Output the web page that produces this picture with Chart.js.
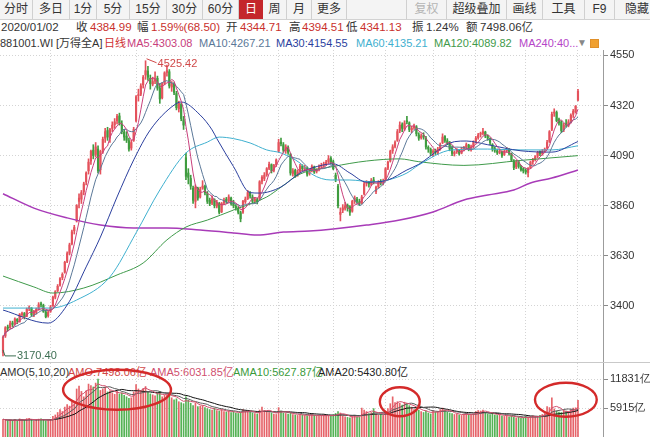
<!DOCTYPE html>
<html>
<head>
<meta charset="utf-8">
<script src="https://cdn.jsdelivr.net/npm/chart.js@4.4.1/dist/chart.umd.min.js"></script>
<style>
  body { margin: 0; background: #fff; font-family: Arial, "Liberation Sans", "Noto Sans CJK SC", sans-serif; }
  #wrap { position: relative; width: 650px; height: 437px; overflow: hidden; background: #fff; }
  #toolbar { position: absolute; left: 0; top: 0; width: 650px; height: 19px; background: #f4f4f4; border-bottom: 1px solid #d2d2d2; }
  #toolbar span { position: absolute; top: 0; height: 19px; line-height: 19px; font-size: 12px; color: #333; text-align: center; border-right: 1px solid #d0d0d0; box-sizing: border-box; overflow: hidden; white-space: nowrap; }
  #toolbar span.on { background: #c4262b; color: #fff; border-right: none; }
  #toolbar span.off { color: #b4b4b4; }
  .t { position: absolute; white-space: nowrap; }
  .r2 { top: 20px; font-size: 11.5px; line-height: 15px; color: #333; }
  .r3 { top: 36px; font-size: 11px; line-height: 14px; color: #333; }
  .rv { top: 365px; font-size: 11px; line-height: 14px; color: #333; }
  .red { color: #c9302c; }
  canvas { position: absolute; left: 0; }
  #sep { position: absolute; left: 0; top: 362px; width: 650px; height: 1px; background: #c9c9c9; }
</style>
</head>
<body>
<div id="wrap">
  <div id="toolbar">
    <span style="left:0;width:33px">分时</span>
    <span style="left:33px;width:37px">多日</span>
    <span style="left:70px;width:27px">1分</span>
    <span style="left:97px;width:33px">5分</span>
    <span style="left:130px;width:37px">15分</span>
    <span style="left:167px;width:36px">30分</span>
    <span style="left:203px;width:36px">60分</span>
    <span class="on" style="left:239px;width:24px">日</span>
    <span style="left:263px;width:24px">周</span>
    <span style="left:287px;width:25px">月</span>
    <span style="left:312px;width:35px">更多</span>
    <span style="left:347px;width:60px"></span>
    <span class="off" style="left:407px;width:40px">复权</span>
    <span style="left:447px;width:60px">超级叠加</span>
    <span style="left:507px;width:36px">画线</span>
    <span style="left:543px;width:42px">工具</span>
    <span style="left:585px;width:30px">F9</span>
    <span style="left:615px;width:35px;text-align:left;padding-left:10px;border-right:none">隐藏</span>
  </div>

  <span class="t r2" style="left:1px">2020/01/02</span>
  <span class="t r2" style="left:76px">收</span>
  <span class="t r2 red" style="left:90px">4384.99</span>
  <span class="t r2" style="left:137px">幅</span>
  <span class="t r2 red" style="left:151px">1.59%(68.50)</span>
  <span class="t r2" style="left:226px">开</span>
  <span class="t r2 red" style="left:240px">4344.71</span>
  <span class="t r2" style="left:289px">高</span>
  <span class="t r2 red" style="left:302px">4394.51</span>
  <span class="t r2" style="left:346px">低</span>
  <span class="t r2 red" style="left:360px">4341.13</span>
  <span class="t r2" style="left:412px">振</span>
  <span class="t r2" style="left:426px">1.24%</span>
  <span class="t r2" style="left:466px">额</span>
  <span class="t r2" style="left:480px">7498.06亿</span>

  <span class="t r3" style="left:0">881001.WI</span>
  <span class="t r3" style="left:56px">[万得全A]</span>
  <span class="t r3" style="left:104px;color:#d03030">日线</span>
  <span class="t r3" style="left:127px;color:#c8407c">MA5:4303.08</span>
  <span class="t r3" style="left:199px;color:#5b7898">MA10:4267.21</span>
  <span class="t r3" style="left:276px;color:#2b3f9e">MA30:4154.55</span>
  <span class="t r3" style="left:356px;color:#3fb0cf">MA60:4135.21</span>
  <span class="t r3" style="left:434px;color:#3f9a4a">MA120:4089.82</span>
  <span class="t r3" style="left:519px;color:#b545c8">MA240:40...</span>
  <span class="t r3" style="left:577px;color:#888;font-size:10px">▼</span>
  <div style="position:absolute;left:590px;top:39px;width:7px;height:7px;background:#f0a030;border:1px solid #e0902a"></div>

  <canvas id="price" width="650" height="312" style="top:50px"></canvas>
  <div id="sep"></div>

  <span class="t rv" style="left:0">AMO(5,10,20)</span>
  <span class="t rv" style="left:68px;color:#d04848">AMO:7498.06亿</span>
  <span class="t rv" style="left:150px;color:#d0506e">AMA5:6031.85亿</span>
  <span class="t rv" style="left:233px;color:#3a9a3a">AMA10:5627.87亿</span>
  <span class="t rv" style="left:318px;color:#222">AMA20:5430.80亿</span>

  <canvas id="volume" width="650" height="74" style="top:363px"></canvas>
</div>

<script>
// 日线数据 2019/01/04 - 2020/01/02，按月分行
const opens = [
  3185,3262,3302,3300,3322,3318,3338,3328,3360,3365,3352,3388,3390,3358,3370,3386,3410,3402,3372,3355,
  3375,3400,3440,3470,3495,3530,3555,3605,3642,3685,3745,3790,3880,3890,3925,
  3970,4020,4065,4115,4095,4120,4025,4115,4170,4205,4170,4215,4232,4250,4272,4235,4198,4180,4158,4125,4160,
  4250,4365,4372,4415,4460,4478,4445,4418,4432,4445,4400,4355,4422,4472,4475,4405,4418,4375,4305,4325,4255,
  4080,4010,3985,3940,3880,3940,3900,3940,3948,3915,3885,3872,3888,3858,3870,3832,3872,3890,3882,3895,
  3872,3858,3848,3828,3830,3878,3892,3918,3900,3882,3888,3890,3972,3985,4002,4032,4048,4022,4048,
  4110,4152,4140,4112,4128,4095,4008,4022,4002,4018,4042,4028,4032,4008,4022,4038,4018,4028,4040,4046,4052,4062,4078,
  4062,4000,3950,3820,3840,3848,3862,3855,3835,3882,3890,3878,3872,3915,3962,3968,3958,3978,3925,3948,3972,3968,
  3980,4032,4065,4112,4132,4160,4205,4232,4212,4250,4240,4208,4218,4222,4185,4172,4182,4170,4128,4118,
  4105,4112,4100,4122,4150,4178,4158,4148,4125,4098,4108,4112,4102,4122,4128,4138,4118,4132,
  4155,4172,4188,4192,4198,4178,4168,4140,4122,4112,4102,4108,4095,4112,4118,4098,4065,4038,4062,4038,4030,
  4022,4012,4035,4062,4072,4088,4108,4098,4112,4125,4155,4210,4285,4288,4255,4245,4208,4235,4228,4248,4280,4290,4344.71
];
const highs = [
  3262,3305,3312,3330,3330,3345,3342,3365,3372,3370,3390,3400,3392,3380,3390,3415,3418,3408,3380,3378,
  3402,3445,3470,3498,3530,3552,3605,3648,3688,3748,3770,3865,3915,3930,3968,
  4015,4075,4115,4140,4150,4135,4115,4175,4215,4220,4215,4245,4260,4280,4285,4250,4210,4200,4170,4160,4220,
  4365,4395,4420,4458,4525.42,4500,4460,4450,4475,4455,4420,4425,4475,4505,4485,4430,4425,4385,4340,4330,4270,
  4100,4030,4000,3950,3955,3945,3945,3975,3955,3925,3895,3905,3892,3885,3875,3875,3895,3898,3910,3900,
  3885,3865,3856,3835,3885,3900,3930,3925,3910,3898,3895,3975,3998,4012,4035,4060,4052,4050,4075,
  4165,4170,4150,4140,4135,4100,4030,4028,4025,4050,4048,4045,4038,4028,4048,4042,4030,4048,4055,4060,4068,4090,4085,
  4070,4010,3958,3850,3865,3875,3868,3860,3885,3905,3898,3890,3908,3968,3975,3972,3985,3990,3950,3975,3980,3982,
  4035,4065,4115,4140,4158,4210,4245,4240,4250,4270,4245,4225,4235,4228,4195,4190,4195,4178,4135,4125,
  4118,4120,4128,4148,4190,4182,4168,4155,4135,4112,4122,4118,4128,4132,4148,4142,4138,4158,
  4178,4192,4198,4215,4202,4185,4172,4145,4130,4120,4118,4112,4118,4128,4122,4102,4072,4068,4065,4045,4035,
  4030,4035,4065,4078,4090,4110,4112,4118,4125,4160,4205,4290,4305,4295,4262,4250,4238,4255,4255,4282,4302,4320,4394.51
];
const lows = [
  3170.4,3255,3285,3296,3305,3312,3318,3325,3350,3340,3350,3378,3352,3350,3362,3380,3395,3370,3345,3348,
  3370,3398,3432,3465,3490,3520,3550,3598,3635,3680,3730,3785,3850,3870,3910,
  3955,4005,4050,4075,4085,4010,4005,4100,4150,4160,4150,4200,4215,4235,4230,4190,4160,4150,4110,4115,4155,
  4245,4340,4365,4400,4440,4435,4395,4410,4420,4390,4330,4350,4415,4455,4400,4385,4370,4300,4290,4250,4210,
  3980,3960,3935,3870,3850,3885,3895,3935,3910,3870,3860,3865,3850,3850,3822,3828,3865,3870,3878,3862,
  3850,3840,3822,3786,3825,3870,3888,3895,3872,3870,3868,3885,3960,3975,3995,4025,4010,4015,4040,
  4105,4135,4105,4100,4095,4000,3995,3990,3995,4010,4020,4018,3995,4000,4015,4008,4010,4020,4032,4038,4045,4055,4052,
  4025,3970,3850,3790,3828,3840,3835,3815,3830,3870,3870,3860,3868,3910,3950,3945,3952,3960,3915,3940,3955,3955,
  3975,4025,4060,4100,4125,4155,4195,4200,4205,4235,4200,4195,4210,4180,4160,4165,4165,4120,4105,4090,
  4085,4095,4095,4115,4145,4150,4140,4112,4090,4088,4100,4092,4098,4112,4120,4112,4110,4125,
  4148,4165,4175,4185,4172,4160,4140,4110,4105,4095,4098,4082,4090,4105,4092,4062,4025,4030,4032,4018,4010,
  4005,3992,4030,4050,4065,4080,4090,4092,4105,4120,4150,4205,4270,4245,4230,4195,4200,4220,4222,4240,4265,4285,4341.13
];
const closes = [
  3255,3300,3298,3320,3315,3340,3330,3360,3362,3350,3385,3392,3360,3372,3385,3405,3405,3375,3350,3370,
  3395,3440,3465,3490,3525,3545,3600,3640,3680,3740,3760,3860,3895,3920,3960,
  4010,4060,4110,4090,4130,4020,4110,4165,4200,4175,4210,4230,4245,4270,4240,4200,4175,4160,4120,4150,4210,
  4360,4370,4410,4450,4480,4450,4420,4430,4440,4400,4350,4420,4470,4480,4410,4420,4380,4310,4330,4260,4230,
  3995,3990,3950,3885,3945,3895,3935,3950,3920,3880,3870,3890,3860,3875,3830,3870,3885,3880,3900,3870,
  3860,3850,3830,3800,3880,3890,3920,3905,3880,3890,3880,3970,3990,4000,4030,4050,4020,4045,4070,
  4150,4145,4115,4130,4105,4010,4020,4000,4015,4040,4030,4035,4005,4020,4040,4015,4025,4040,4045,4050,4060,4075,4060,
  4030,3980,3860,3830,3850,3860,3850,3830,3880,3895,3880,3870,3900,3960,3965,3960,3975,3970,3945,3970,3965,3970,
  4030,4060,4110,4130,4150,4200,4230,4215,4240,4245,4210,4215,4225,4190,4170,4180,4175,4130,4120,4100,
  4110,4105,4120,4140,4175,4160,4150,4120,4100,4105,4115,4100,4120,4125,4140,4120,4130,4150,
  4170,4185,4190,4200,4180,4170,4150,4120,4115,4105,4110,4090,4110,4115,4100,4070,4035,4060,4040,4025,4020,
  4015,4030,4060,4070,4085,4105,4100,4110,4119.4,4150,4200,4280,4290,4250,4240,4205,4230,4231.72,4245,4275,4293.9,4316.49,4384.99
];
// 成交额（亿）
const volumes = [
  3600,3500,3300,3450,3350,3550,3300,3700,3600,3400,3750,3800,3500,3300,3450,3650,3700,3400,3300,3350,
  3600,4200,4500,5000,5600,5200,6100,6600,6300,7200,6800,9800,10400,9300,8200,
  9400,10800,10500,10200,11000,11800,9500,9800,10200,9200,9400,9000,8700,9300,8800,9000,8500,8200,7900,8000,9200,
  10700,9800,9500,9900,10300,9200,8800,8600,8400,9000,9300,8200,8500,8600,8900,8000,7600,7800,7200,7000,6800,
  8200,7500,6900,6400,7000,6200,6300,6400,6000,5800,5600,5500,5900,5400,5300,5600,5200,5100,5300,5000,
  5200,4900,4800,5000,5600,5400,5300,5100,4900,4800,4700,5500,6100,5400,5200,5000,4900,4700,4600,
  6000,5300,4900,4800,4700,5000,4600,4500,4400,4600,4500,4400,4300,4500,4600,4400,4300,4200,4400,4500,4400,4300,4200,
  4500,4800,5200,4900,4300,4100,4000,3900,4200,4400,4100,4000,5900,5500,5200,4800,5000,5800,4700,4500,4600,4400,
  5200,5800,6800,8200,7000,7200,6900,6500,7100,6800,6400,6100,5600,5900,5500,5200,5000,5300,4900,4700,
  5400,5100,5200,5600,5900,5500,5100,4900,4800,4600,4700,4500,4400,4700,4800,4600,4500,4700,
  5200,5400,5300,5500,5000,4700,4600,4900,4500,4400,4600,4300,4200,4400,4100,4300,4000,3900,4100,3800,3900,
  4200,4000,4150,4300,4200,4100,4400,4600,4800,6200,6000,8000,5737,5300,5100,5000,5420,5300,5200,5600,5900,5961,7498.06
];

// 每月第一个交易日（竖向网格）
const monthStarts = [20, 56, 77, 97, 116, 139, 161, 181, 199, 220, 242];
const priceTicks = [3400, 3630, 3860, 4090, 4320, 4550];
const volumeTicks = [5915, 11831];

// 长周期均线
const ma30Days = [0, 19, 27, 35, 41, 48, 55, 62, 72, 75, 83, 88, 90, 97, 104, 108, 117, 125, 130, 139, 146, 153, 162, 170, 175, 184, 190, 195, 204, 218, 231, 242];
const ma30Values = [3381, 3321, 3404, 3579, 3716, 3900, 4070, 4208, 4322, 4336, 4276, 4208, 4168, 4040, 3920, 3918, 3946, 4010, 4033, 4052, 4010, 3968, 3978, 4024, 4050, 4120, 4154, 4157, 4140, 4112, 4106, 4154.55];
const ma60Days = [0, 20, 31, 45, 56, 66, 77, 86, 91, 97, 104, 111, 117, 125, 130, 138, 146, 156, 162, 170, 175, 189, 204, 218, 231, 242];
const ma60Values = [3390, 3390, 3427, 3533, 3735, 3932, 4102, 4152, 4175, 4168, 4148, 4116, 4102, 4056, 4005, 3978, 3978, 3969, 3978, 4010, 4047, 4116, 4120, 4116, 4116, 4135.21];
const ma120Days = [0, 13, 21, 34, 48, 59, 69, 77, 86, 97, 111, 117, 125, 139, 153, 167, 175, 194, 218, 242];
const ma120Values = [3537, 3487, 3459, 3482, 3542, 3597, 3703, 3762, 3794, 3840, 3900, 3945, 4005, 4040, 4065, 4075, 4062, 4045, 4068, 4089.82];
const ma240Days = [0, 13, 27, 41, 55, 69, 83, 97, 107, 118, 129, 139, 153, 167, 181, 194, 204, 215, 222, 231, 242];
const ma240Values = [3915, 3849, 3804, 3771, 3758, 3758, 3748, 3735, 3725, 3739, 3744, 3753, 3771, 3794, 3831, 3886, 3909, 3932, 3964, 3987, 4024];

// 成交额上的红圈标注
const highlights = [
  { day: 48, amount: 9650, rx: 22.7, ry: 4080 },
  { day: 167, amount: 7200, rx: 8.4, ry: 2960 },
  { day: 236.9, amount: 7610, rx: 13, ry: 3470 }
];

Chart.defaults.font.family = 'Arial, "Liberation Sans", sans-serif';
Chart.defaults.animation = false;

const upColor = "#e4525c";
const downColor = "#3f9c3f";
const days = closes.map((c, i) => i);
const candleColors = days.map((i) => (closes[i] >= opens[i] ? upColor : downColor));
const volumeColors = days.map((i) => (closes[i] >= opens[i] ? "#e6646a" : "#55b255"));

const xMin = -1.263;
const xMax = 252.53;

// 均线
function movingAverage(values, n) {
  return values.map((v, i) => {
    const part = values.slice(Math.max(0, i - n + 1), i + 1);
    return part.reduce((s, a) => s + a, 0) / part.length;
  });
}

function toPoints(xs, ys) {
  return xs.map((x, k) => ({ x: x, y: ys[k] }));
}

function lineSet(label, data, color, width, order, smooth) {
  return {
    type: "line",
    label: label,
    data: data,
    borderColor: color,
    borderWidth: width,
    pointRadius: 0,
    fill: false,
    order: order,
    cubicInterpolationMode: smooth ? "monotone" : "default",
  };
}

function monthGrid() {
  return {
    type: "linear",
    min: xMin,
    max: xMax,
    offset: false,
    afterBuildTicks: (s) => {
      s.ticks = monthStarts.map((v) => ({ value: v }));
    },
    ticks: { display: false },
    grid: { color: "#d4d4d4", drawTicks: false, offset: false },
    border: { display: false, dash: [1, 2] },
  };
}

function rightAxis(min, max, ticks, fmt) {
  return {
    position: "right",
    min: min,
    max: max,
    afterBuildTicks: (s) => {
      s.ticks = ticks.map((v) => ({ value: v }));
    },
    afterFit: (s) => {
      s.width = 47;
      s.paddingTop = 0;
      s.paddingBottom = 0;
    },
    ticks: { color: "#333", font: { size: 11 }, padding: 2, autoSkip: false, callback: fmt },
    grid: { color: "#d4d4d4", tickColor: "#8a8a8a", tickLength: 5 },
    border: { display: true, color: "#9c9c9c", dash: [1, 2] },
  };
}

// 最高/最低价标注
const extremePlugin = {
  id: "extremes",
  afterDatasetsDraw(chart) {
    const { ctx, scales } = chart;
    const hiIdx = highs.indexOf(Math.max(...highs));
    const loIdx = lows.indexOf(Math.min(...lows));
    ctx.save();
    ctx.font = "11px Arial";
    ctx.textBaseline = "middle";
    ctx.lineWidth = 1;

    let px = scales.x.getPixelForValue(hiIdx);
    let py = scales.y.getPixelForValue(highs[hiIdx]);
    ctx.strokeStyle = "#d04848";
    ctx.beginPath();
    ctx.moveTo(px + 1, py - 2);
    ctx.lineTo(px + 11, py + 2);
    ctx.stroke();
    ctx.fillStyle = "#d04848";
    ctx.fillText(highs[hiIdx].toFixed(2), px + 12, py + 3);

    px = scales.x.getPixelForValue(loIdx);
    py = scales.y.getPixelForValue(lows[loIdx]);
    ctx.strokeStyle = "#3c6e52";
    ctx.beginPath();
    ctx.moveTo(px, py - 6);
    ctx.lineTo(px + 2, py);
    ctx.lineTo(px + 13, py);
    ctx.stroke();
    ctx.fillStyle = "#3c6e52";
    ctx.fillText(lows[loIdx].toFixed(2), px + 14, py);
    ctx.restore();
  },
};

const ellipsePlugin = {
  id: "ellipses",
  afterDraw(chart) {
    const { ctx, scales } = chart;
    ctx.save();
    ctx.strokeStyle = "#d42a2a";
    ctx.lineWidth = 2.4;
    highlights.forEach((h) => {
      const cx = scales.x.getPixelForValue(h.day);
      const cy = scales.y.getPixelForValue(h.amount);
      const rx = scales.x.getPixelForValue(h.day + h.rx) - cx;
      const ry = cy - scales.y.getPixelForValue(h.amount + h.ry);
      ctx.beginPath();
      ctx.ellipse(cx, cy, rx, ry, 0, 0, Math.PI * 2);
      ctx.stroke();
    });
    ctx.restore();
  },
};

const priceChart = new Chart(document.getElementById("price"), {
  type: "bar",
  data: {
    datasets: [
      {
        label: "wick",
        data: days.map((i) => ({ x: i, y: [lows[i], highs[i]] })),
        backgroundColor: candleColors,
        barThickness: 1,
        grouped: false,
        order: 11,
      },
      {
        label: "body",
        data: days.map((i) => ({ x: i, y: [opens[i], closes[i]] })),
        backgroundColor: candleColors,
        barThickness: 1.5,
        minBarLength: 1,
        grouped: false,
        order: 10,
      },
      lineSet("MA240", toPoints(ma240Days, ma240Values), "#a83bb8", 1.5, 6, true),
      lineSet("MA120", toPoints(ma120Days, ma120Values), "#3f9a4a", 1, 5, true),
      lineSet("MA60", toPoints(ma60Days, ma60Values), "#3fb0cf", 1, 4, true),
      lineSet("MA30", toPoints(ma30Days, ma30Values), "#2b3f9e", 1, 3, true),
      lineSet("MA10", toPoints(days, movingAverage(closes, 10)), "#5b7898", 1, 2, false),
      lineSet("MA5", toPoints(days, movingAverage(closes, 5)), "#c8407c", 1, 1, false),
    ],
  },
  options: {
    responsive: false,
    devicePixelRatio: 1,
    events: [],
    layout: { padding: 0 },
    plugins: { legend: { display: false }, tooltip: { enabled: false } },
    scales: {
      x: monthGrid(),
      y: rightAxis(3142.4, 4574.8, priceTicks, (v) => String(v)),
    },
  },
  plugins: [extremePlugin],
});

const volumeChart = new Chart(document.getElementById("volume"), {
  type: "bar",
  data: {
    datasets: [
      {
        label: "AMO",
        data: days.map((i) => ({ x: i, y: volumes[i] })),
        backgroundColor: volumeColors,
        barThickness: 1,
        grouped: false,
        order: 10,
      },
      lineSet("AMA20", toPoints(days, movingAverage(volumes, 20)), "#111", 1, 3, false),
      lineSet("AMA10", toPoints(days, movingAverage(volumes, 10)), "#5a5a5a", 1, 2, false),
      lineSet("AMA5", toPoints(days, movingAverage(volumes, 5)), "#d0506e", 1, 1, false),
    ],
  },
  options: {
    responsive: false,
    devicePixelRatio: 1,
    events: [],
    layout: { padding: 0 },
    plugins: { legend: { display: false }, tooltip: { enabled: false } },
    scales: {
      x: monthGrid(),
      y: rightAxis(0, 15100, volumeTicks, (v) => v + "亿"),
    },
  },
  plugins: [ellipsePlugin],
});
</script>
</body>
</html>
